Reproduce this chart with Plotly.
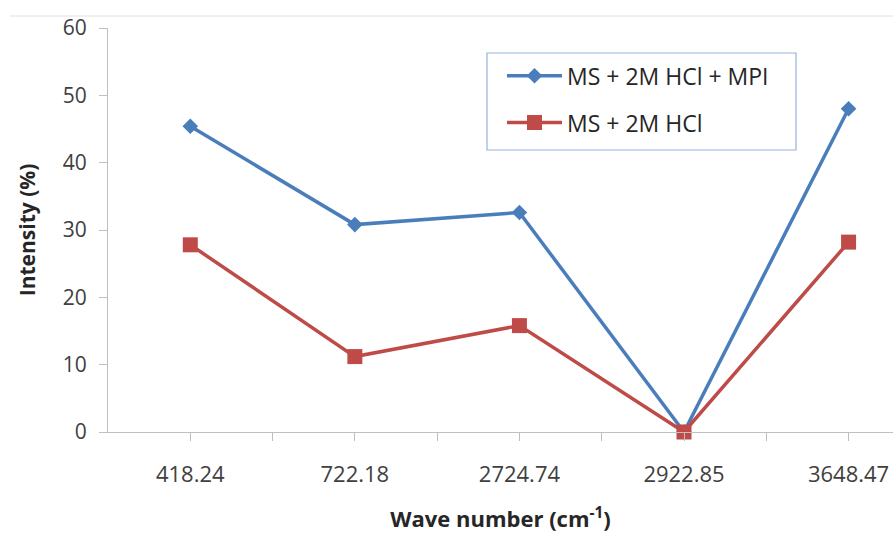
import plotly.graph_objects as go

categories = ["418.24", "722.18", "2724.74", "2922.85", "3648.47"]
series_mpi = [45.4, 30.8, 32.6, 0.0, 48.0]
series_hcl = [27.8, 11.2, 15.8, 0.0, 28.2]
name_mpi = "MS + 2M HCl + MPI"
name_hcl = "MS + 2M HCl"

xpos = list(range(len(categories)))
FONT = "Open Sans, Liberation Sans, sans-serif"

fig = go.Figure()
fig.add_trace(go.Scatter(
    x=xpos, y=series_mpi, name=name_mpi, mode="lines+markers",
    line=dict(color="#4a7ebb", width=3.5),
    marker=dict(symbol="diamond", size=12, color="#4a7ebb"),
    legendgroup="a", cliponaxis=False,
))
fig.add_trace(go.Scatter(
    x=xpos, y=series_hcl, name=name_hcl, mode="lines+markers",
    line=dict(color="#be4b48", width=3.5),
    marker=dict(symbol="square", size=15, color="#be4b48"),
    legendgroup="b", cliponaxis=False,
))

minor_vals = [i + 0.5 for i in range(len(categories) - 1)]

fig.update_layout(
    width=893, height=533,
    margin=dict(l=108, r=0, t=28, b=101),
    paper_bgcolor="white", plot_bgcolor="white",
    font=dict(family=FONT, color="#404040", size=21),
    showlegend=True,
    legend=dict(
        x=(502 - 108) / 785, y=0.935, xanchor="left", yanchor="top",
        bgcolor="rgba(0,0,0,0)", borderwidth=0,
        font=dict(size=23, color="#262626", family=FONT),
        tracegroupgap=14, itemwidth=55,
    ),
    shapes=[
        dict(type="rect", xref="paper", yref="paper",
             x0=(487 - 108) / 785, x1=(796 - 108) / 785,
             y0=(432 - 150) / 404, y1=(432 - 53) / 404,
             line=dict(color="#95b3d7", width=1.2)),
        dict(type="line", xref="paper", yref="paper",
             x0=(10 - 108) / 785, x1=1.0,
             y0=(432 - 16) / 404, y1=(432 - 16) / 404,
             line=dict(color="#e0e0e0", width=1)),
    ],
)

fig.update_xaxes(
    range=[-0.5, 4.27], tickmode="array", tickvals=xpos, ticktext=categories,
    showgrid=False, zeroline=False,
    showline=True, linecolor="#bfbfbf", linewidth=1.3,
    ticks="outside", ticklen=8, tickcolor="#bfbfbf", tickwidth=1.3,
    minor=dict(tickvals=minor_vals, ticks="outside", ticklen=8,
               tickcolor="#bfbfbf", tickwidth=1.3, showgrid=False),
    tickfont=dict(size=22, color="#404040"), ticklabelstandoff=14,
    title=dict(text="<b>Wave number (cm<sup>-1</sup>)</b>", standoff=26,
               font=dict(size=22, color="#262626")),
)
fig.update_yaxes(
    range=[0, 60], dtick=10,
    showgrid=False, zeroline=False,
    showline=True, linecolor="#bfbfbf", linewidth=1.3,
    ticks="outside", ticklen=8, tickcolor="#bfbfbf", tickwidth=1.3,
    tickfont=dict(size=21, color="#404040"), ticklabelstandoff=8,
    title=dict(text="<b>Intensity (%)</b>", standoff=21,
               font=dict(size=21, color="#262626")),
)

fig.write_html("out.html")
